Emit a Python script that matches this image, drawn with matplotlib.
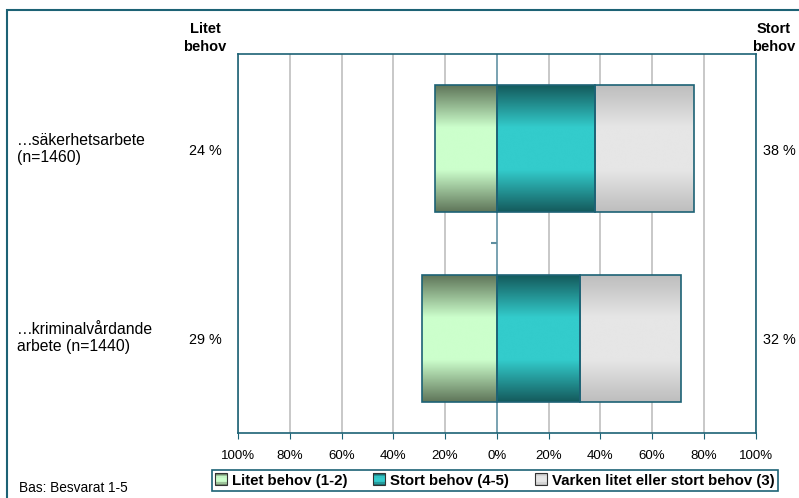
import numpy as np
import matplotlib
matplotlib.use('Agg')
import matplotlib.pyplot as plt
from matplotlib.patches import Rectangle
from matplotlib.colors import LinearSegmentedColormap
from matplotlib.legend_handler import HandlerBase

plt.rcParams['font.family'] = ['Liberation Sans', 'DejaVu Sans']

# Data
categories = ['…säkerhetsarbete\n(n=1460)', '…kriminalvårdande\narbete (n=1440)']
litet = [24, 29]     # Litet behov (1-2), drawn to the left of 0
stort = [38, 32]     # Stort behov (4-5)
varken = [38, 39]    # Varken litet eller stort behov (3)
series_names = ['Litet behov (1-2)', 'Stort behov (4-5)', 'Varken litet eller stort behov (3)']
xticks = [-100, -80, -60, -40, -20, 0, 20, 40, 60, 80, 100]

# edge colour / centre colour of each gradient fill
grad = [('#5f7559', '#ccffcc'), ('#145a5c', '#33cccc'), ('#bdbdbd', '#e6e6e6')]
frame_col = '#1d6275'
grid_col = '#c4c4c4'


def make_cmap(edge, mid):
    return LinearSegmentedColormap.from_list('g', [edge, mid, mid, edge], N=256)


def gradient_bars(ax, bars, cmap):
    img = np.linspace(0, 1, 256).reshape(-1, 1)
    for b in bars:
        x0, y0 = b.get_x(), b.get_y()
        w, h = b.get_width(), b.get_height()
        im = ax.imshow(img, cmap=cmap, aspect='auto', interpolation='bicubic',
                       extent=(x0, x0 + w, y0 + h, y0), zorder=2)
        im.set_clip_path(b)


class GradientHandler(HandlerBase):
    def __init__(self, cmap):
        super().__init__()
        self.cmap = cmap

    def create_artists(self, legend, orig_handle, xdescent, ydescent,
                       width, height, fontsize, trans):
        s = 8.5
        x0 = width - s
        y0 = (height - s) / 2
        arts = []
        n = 8
        for i in range(n):
            c = self.cmap((i + 0.5) / n)
            arts.append(Rectangle((x0, y0 + s * i / n), s, s / n, facecolor=c,
                                  edgecolor='none', transform=trans))
        arts.append(Rectangle((x0, y0), s, s, facecolor='none',
                              edgecolor='#333333', lw=0.8, transform=trans))
        return arts


fig = plt.figure(figsize=(7.99, 4.98), dpi=100)
ax = fig.add_axes([0.2979, 0.1305, 0.6479, 0.7611])

y = np.arange(len(categories)) + 0.5
litet_v = np.array(litet) / 100
stort_v = np.array(stort) / 100
varken_v = np.array(varken) / 100
h = 0.67

b1 = ax.barh(y, -litet_v, height=h, color='none', edgecolor=frame_col, lw=1.2, zorder=3)
b2 = ax.barh(y, stort_v, height=h, color='none', edgecolor=frame_col, lw=1.2, zorder=3)
b3 = ax.barh(y, varken_v, left=stort_v, height=h, color='none', edgecolor=frame_col,
             lw=1.2, zorder=3)
cmaps = [make_cmap(*g) for g in grad]
for bars, cm in zip([b1, b2, b3], cmaps):
    gradient_bars(ax, bars, cm)

ax.set_xlim(-1, 1)
ax.set_ylim(2, 0)
ax.set_xticks(np.array(xticks) / 100)
ax.set_xticklabels([f'{abs(t)}%' for t in xticks], fontsize=9.5)
ax.tick_params(axis='x', direction='out', length=4, color=frame_col, pad=8)
ax.set_yticks([])
ax.grid(axis='x', color=grid_col, lw=1.3, zorder=0)
ax.set_axisbelow(True)
for sp in ax.spines.values():
    sp.set_color(frame_col)
    sp.set_linewidth(1.2)

# vertical axis through 0 with a short tick between the categories
ax.axvline(0, color='#7aa3b3', lw=1.4, zorder=1.5)
ax.plot([0], [1], marker=0, markersize=4, mew=1.5, color='#5f8fa0', zorder=1.5)

# category names and percentages outside the plot area
ytr = ax.get_yaxis_transform()
for yi, cat, lv, sv in zip(y, categories, litet, stort):
    ax.text(-0.427, yi, cat, transform=ytr, ha='left', va='center', fontsize=11.3,
            linespacing=1.2)
    ax.text(-0.064, yi + 0.01, f'{lv} %', transform=ytr, ha='center', va='center',
            fontsize=10.4)
    ax.text(1.046, yi + 0.01, f'{sv} %', transform=ytr, ha='center', va='center',
            fontsize=10.4)

fig.text(205 / 799, 1 - 38 / 498, 'Litet\nbehov', ha='center', va='center',
         fontsize=10.5, fontweight='bold', linespacing=1.3)
fig.text(774 / 799, 1 - 38 / 498, 'Stort\nbehov', ha='center', va='center',
         fontsize=10.5, fontweight='bold', linespacing=1.3)
fig.text(19 / 799, 1 - 488 / 498, 'Bas: Besvarat 1-5', ha='left', va='center',
         fontsize=9.8)

handles = [Rectangle((0, 0), 1, 1) for _ in series_names]
leg = fig.legend(handles, series_names, loc='center', ncol=3,
                 bbox_to_anchor=(0.6195, 1 - 480.5 / 498),
                 handler_map={hd: GradientHandler(cm) for hd, cm in zip(handles, cmaps)},
                 prop={'weight': 'bold', 'size': 10.8}, fancybox=False,
                 edgecolor=frame_col, handlelength=0.75, handletextpad=0.35,
                 columnspacing=1.75, borderpad=0.25, framealpha=1)
leg.get_frame().set_linewidth(1.2)

# outer frame (runs off the right and bottom edges)
fig.add_artist(Rectangle((7 / 799, -0.1), 1.2, 1.1 - 10 / 498, transform=fig.transFigure,
                         fill=False, edgecolor=frame_col, lw=1.5))

fig.savefig('out.png', dpi=100)
